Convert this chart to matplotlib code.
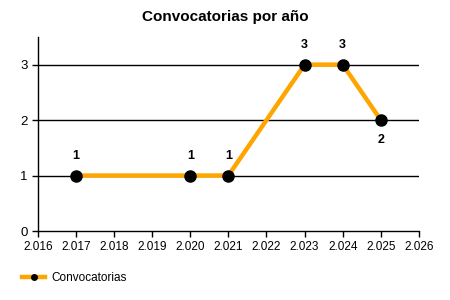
import matplotlib
matplotlib.use("Agg")
import matplotlib.pyplot as plt
from matplotlib.ticker import FuncFormatter

plt.rcParams['font.family'] = ['Liberation Sans', 'DejaVu Sans']

years = [2017, 2020, 2021, 2023, 2024, 2025]
counts = [1, 1, 1, 3, 3, 2]
label_below = [False, False, False, False, False, True]
x_ticks = list(range(2016, 2027))
y_ticks = [0, 1, 2, 3]

fig = plt.figure(figsize=(4.5, 3), dpi=100)
ax = fig.add_axes([0.084, 0.23, 0.847, 0.647])

for y in y_ticks[1:]:
    ax.axhline(y, color='black', linewidth=1, zorder=1)

ax.plot(years, counts, color='#FFA500', linewidth=3.2, marker='o',
        markersize=8, markerfacecolor='black', markeredgecolor='black',
        label='Convocatorias', zorder=3)

for x, y, below in zip(years, counts, label_below):
    off = -14 if below else 14
    ax.annotate(str(y), (x, y), xytext=(0, off), textcoords='offset points',
                ha='center', va='center', fontsize=9, fontweight='bold')

ax.set_xlim(2016, 2026)
ax.set_ylim(0, 3.5)
ax.set_xticks(x_ticks)
ax.xaxis.set_major_formatter(FuncFormatter(lambda v, p: f"{int(v):,}".replace(',', '.')))
ax.set_yticks(y_ticks)
ax.tick_params(axis='x', labelsize=8.5, length=4, width=1)
ax.tick_params(axis='y', labelsize=9.5, length=4, width=1)
for s in ['top', 'right']:
    ax.spines[s].set_visible(False)
ax.spines['left'].set_linewidth(1)
ax.spines['bottom'].set_linewidth(1)

fig.suptitle('Convocatorias por año', x=0.5, y=0.965, fontsize=11, fontweight='bold')

fig.legend(loc='center left', bbox_to_anchor=(0.025, 0.073), frameon=False,
           fontsize=8.5, handlelength=2.0, handletextpad=0.5, markerscale=0.5)

fig.savefig('out.png', dpi=100)
